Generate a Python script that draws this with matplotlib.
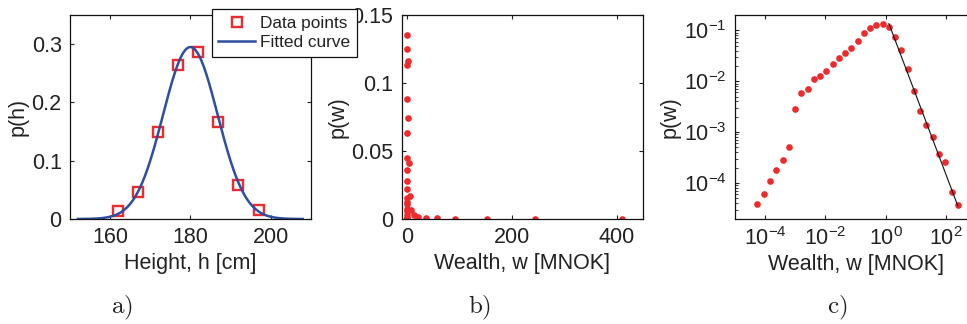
import numpy as np
import matplotlib
matplotlib.use("Agg")
import matplotlib.pyplot as plt
from matplotlib.ticker import LogLocator, NullLocator, NullFormatter


# panel a - height data and fitted gaussian
heights = [162, 167, 172, 177, 182, 187, 192, 197]
p_height = [0.0137, 0.047, 0.150, 0.264, 0.286, 0.167, 0.058, 0.015]
fit_amp = 0.295
fit_mu = 180.0
fit_sigma = 6.8
fit_h_range = [152, 208]

# panels b and c - wealth distribution (same points, linear and log axes)
wealth = [5.6e-5, 9.1e-5, 1.47e-4, 2.38e-4, 3.86e-4, 6.1e-4, 9.8e-4, 1.6e-3,
          2.6e-3, 4.1e-3, 6.6e-3, 1.08e-2, 1.75e-2, 2.82e-2, 4.6e-2, 7.3e-2,
          0.117, 0.19, 0.30, 0.49, 0.79, 1.25, 2.02, 3.29, 5.3, 8.4, 13.6,
          22, 35.7, 56.5, 91, 152, 245, 410]
p_wealth = [3.8e-5, 6.0e-5, 1.11e-4, 1.78e-4, 2.88e-4, 5.0e-4, 2.8e-3, 5.9e-3,
            7.1e-3, 1.08e-2, 1.28e-2, 1.56e-2, 2.19e-2, 2.83e-2, 3.6e-2, 4.5e-2,
            6.3e-2, 8.85e-2, 0.113, 0.125, 0.135, 0.116, 0.074, 0.041, 0.017,
            6.5e-3, 2.6e-3, 1.38e-3, 8.05e-4, 3.74e-4, 2.61e-4, 6.7e-5, 3.76e-5,
            1.0e-5]
# power law tail fit p = C * w^alpha
tail_c = 0.199
tail_alpha = -1.57
tail_w_range = [1.28, 245]

# tick labels
a_xticks = [160, 180, 200]
a_yticks = [0, 0.1, 0.2, 0.3]
a_ylabels = ["0", "0.1", "0.2", "0.3"]
b_xticks = [0, 200, 400]
b_yticks = [0, 0.05, 0.1, 0.15]
b_ylabels = ["0", "0.05", "0.1", "0.15"]
c_xticks = [1e-4, 1e-2, 1e0, 1e2]
c_yticks = [1e-4, 1e-3, 1e-2, 1e-1]

red = "#ee2a2c"
blue = "#2e4da3"
txt = "#222222"
fs = 15.5

plt.rcParams["font.family"] = ["Liberation Sans", "DejaVu Sans"]
plt.rcParams["font.size"] = fs
plt.rcParams["mathtext.fontset"] = "custom"
plt.rcParams["mathtext.rm"] = "Liberation Sans"
plt.rcParams["mathtext.it"] = "Liberation Sans:italic"
plt.rcParams["mathtext.bf"] = "Liberation Sans:bold"
plt.rcParams["text.color"] = txt
plt.rcParams["axes.labelcolor"] = txt
plt.rcParams["xtick.color"] = txt
plt.rcParams["ytick.color"] = txt

W, H = 967, 324
fig = plt.figure(figsize=(W / 100, H / 100), dpi=100)


def box(left, right, top, bottom):
    return [left / W, 1 - bottom / H, (right - left) / W, (bottom - top) / H]


def style(ax):
    for s in ax.spines.values():
        s.set_linewidth(0.9)
        s.set_color("#111111")
    ax.tick_params(which="major", direction="in", length=3, width=0.8,
                   top=True, right=True, pad=6, labelsize=fs)
    ax.tick_params(which="minor", direction="in", length=1.8, width=0.6,
                   top=True, right=True)


# ---- panel a ----
ax_a = fig.add_axes(box(70, 310.7, 15, 219))
h_fit = np.linspace(fit_h_range[0], fit_h_range[1], 300)
p_fit = fit_amp * np.exp(-(h_fit - fit_mu) ** 2 / (2 * fit_sigma ** 2))
pts, = ax_a.plot(heights, p_height, "s", mfc="none", mec=red, mew=1.7,
                 ms=7, label="Data points")
crv, = ax_a.plot(h_fit, p_fit, "-", color=blue, lw=1.8, label="Fitted curve")
ax_a.set_xlim(150, 210)
ax_a.set_ylim(0, 0.35)
ax_a.set_xticks(a_xticks)
ax_a.set_yticks(a_yticks)
ax_a.set_yticklabels(a_ylabels)
ax_a.set_xlabel("Height, h [cm]", labelpad=3)
ax_a.set_ylabel("p(h)", labelpad=2)
style(ax_a)

# ---- panel b ----
ax_b = fig.add_axes(box(401.7, 642.7, 15, 219))
ax_b.plot(wealth, p_wealth, "o", color=red, ms=4.8, mew=0)
ax_b.set_xlim(-10, 450)
ax_b.set_ylim(0, 0.15)
ax_b.set_xticks(b_xticks)
ax_b.set_yticks(b_yticks)
ax_b.set_yticklabels(b_ylabels)
ax_b.set_xlabel("Wealth, w [MNOK]", labelpad=3)
ax_b.set_ylabel("p(w)", labelpad=2)
style(ax_b)

# ---- panel c ----
ax_c = fig.add_axes(box(734.7, 976.3, 15, 218.5))
ax_c.loglog(wealth, p_wealth, "o", color=red, ms=4.8, mew=0)
w_tail = np.array(tail_w_range)
ax_c.loglog(w_tail, tail_c * w_tail ** tail_alpha, "-", color="#111111", lw=0.8)
ax_c.set_xlim(1e-5, 1e3)
ax_c.set_ylim(2e-5, 0.2)
ax_c.set_xticks(c_xticks)
ax_c.xaxis.set_minor_locator(NullLocator())
ax_c.set_yticks(c_yticks)
ax_c.yaxis.set_minor_locator(LogLocator(base=10, subs=np.arange(2, 10)))
ax_c.yaxis.set_minor_formatter(NullFormatter())
ax_c.set_xlabel("Wealth, w [MNOK]", labelpad=3)
ax_c.set_ylabel("p(w)", labelpad=2)
style(ax_c)

# legend sits across panels a and b
leg = fig.legend([pts, crv], ["Data points", "Fitted curve"], loc="upper left",
                 bbox_to_anchor=(211.7 / W, 1 - 9.3 / H),
                 bbox_transform=fig.transFigure, borderaxespad=0,
                 fontsize=12.4, frameon=True, fancybox=False, framealpha=1,
                 edgecolor="#111111", handlelength=2.15, handletextpad=0.3,
                 labelspacing=0.25, borderpad=0.38)
leg.get_frame().set_linewidth(0.9)

# panel letters
for x, s in [(121.7, "a)"), (480, "b)"), (836.7, "c)")]:
    fig.text(x / W, 1 - 308 / H, "$\\mathrm{" + s + "}$", math_fontfamily="cm",
             ha="center", va="center", fontsize=18, color=txt)

fig.savefig("out.png", dpi=100)
